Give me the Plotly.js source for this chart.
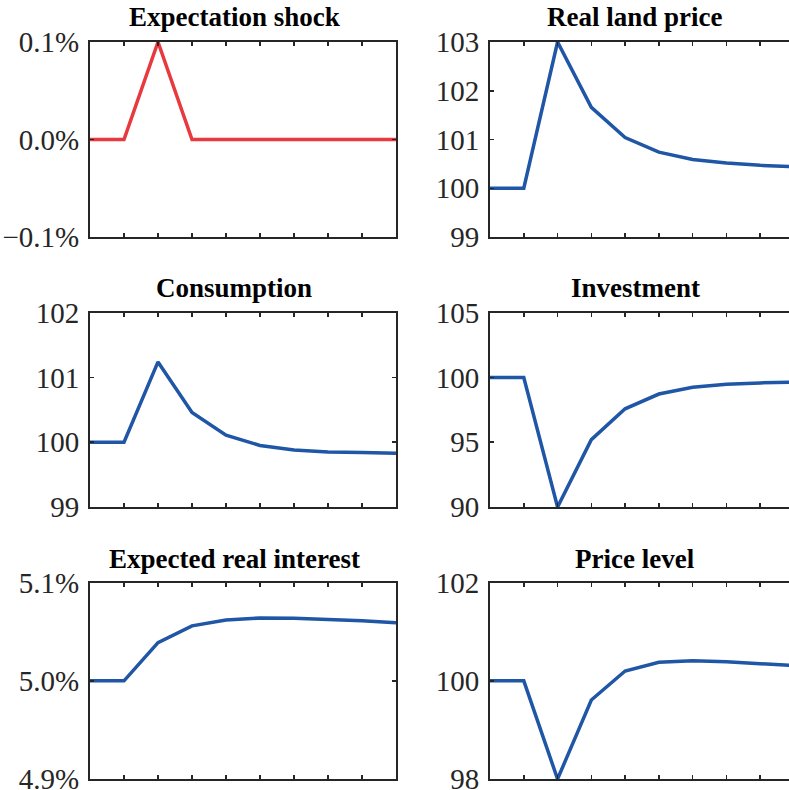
<!DOCTYPE html>
<html>
<head>
<meta charset="utf-8">
<script src="https://cdn.plot.ly/plotly-3.0.1.min.js"></script>
<style>
html,body{margin:0;padding:0;overflow:hidden;background:#fff;width:789px;height:790px;}
#wrap{width:789px;height:790px;overflow:hidden;position:relative;}
#chart{width:800px;height:790px;position:absolute;left:0;top:0;}
</style>
</head>
<body>
<div id="wrap"><div id="chart"></div></div>
<script>
// Periods (x positions)
const periods = [0, 1, 2, 3, 4, 5, 6, 7, 8, 9];

// Series values
const expectationShock = [0, 0, 0.1, 0, 0, 0, 0, 0, 0, 0];          // %
const realLandPrice    = [100, 100, 103, 101.66, 101.04, 100.74, 100.59, 100.52, 100.47, 100.44];
const consumption      = [100, 100, 101.24, 100.46, 100.11, 99.95, 99.88, 99.85, 99.84, 99.83];
const investment       = [100, 100, 90, 95.2, 97.58, 98.72, 99.25, 99.48, 99.58, 99.64];
const expRealInterest  = [5.0, 5.0, 5.039, 5.056, 5.062, 5.064, 5.0637, 5.0626, 5.0612, 5.0592]; // %
const priceLevel       = [100, 100, 98, 99.61, 100.2, 100.38, 100.41, 100.39, 100.35, 100.31];

// Panel titles
const titles = ["Expectation shock", "Real land price", "Consumption", "Investment", "Expected real interest", "Price level"];

// Y ranges and tick labels
const yRanges = [[-0.1, 0.1], [99, 103], [99, 102], [90, 105], [4.9, 5.1], [98, 102]];
const yTickVals = [
  [-0.1, 0, 0.1],
  [99, 100, 101, 102, 103],
  [99, 100, 101, 102],
  [90, 95, 100, 105],
  [4.9, 5.0, 5.1],
  [98, 100, 102]
];
const yTickText = [
  ["\u22120.1%", "0.0%", "0.1%"],
  ["99", "100", "101", "102", "103"],
  ["99", "100", "101", "102"],
  ["90", "95", "100", "105"],
  ["4.9%", "5.0%", "5.1%"],
  ["98", "100", "102"]
];

const series = [expectationShock, realLandPrice, consumption, investment, expRealInterest, priceLevel];
const colors = ["#E8393F", "#1F56A6", "#1F56A6", "#1F56A6", "#1F56A6", "#1F56A6"];

const W = 800, H = 790;
const xDomPx = [[90, 396], [490, 794]];
const yDomPx = [[42, 237], [312.7, 507], [582.7, 779]];
const titleXPx = [234, 635];
const titleYPx = [34, 305, 576];

const traces = [];
const layout = {
  width: W, height: H,
  margin: {l: 0, r: 0, t: 0, b: 0, pad: 0},
  paper_bgcolor: "#ffffff",
  plot_bgcolor: "#ffffff",
  showlegend: false,
  annotations: []
};

for (let i = 0; i < 6; i++) {
  const row = Math.floor(i / 2), col = i % 2;
  const n = i + 1;
  const xa = n === 1 ? "xaxis" : "xaxis" + n;
  const ya = n === 1 ? "yaxis" : "yaxis" + n;
  traces.push({
    x: periods, y: series[i],
    xaxis: "x" + (n === 1 ? "" : n), yaxis: "y" + (n === 1 ? "" : n),
    type: "scatter", mode: "lines",
    line: {color: colors[i], width: 3.5},
    cliponaxis: false,
    hoverinfo: "skip"
  });
  layout[xa] = {
    domain: [xDomPx[col][0] / W, xDomPx[col][1] / W],
    anchor: "y" + (n === 1 ? "" : n),
    range: [0, 9], tickmode: "array", tickvals: periods,
    showgrid: false, zeroline: false,
    showline: true, linecolor: "#262626", linewidth: 2, mirror: "ticks",
    ticks: "inside", ticklen: 4, tickwidth: 1.5, tickcolor: "#262626",
    showticklabels: false, fixedrange: true
  };
  layout[ya] = {
    domain: [1 - yDomPx[row][1] / H, 1 - yDomPx[row][0] / H],
    anchor: "x" + (n === 1 ? "" : n),
    range: yRanges[i], tickmode: "array", tickvals: yTickVals[i], ticktext: yTickText[i],
    showgrid: false, zeroline: false,
    showline: true, linecolor: "#262626", linewidth: 2, mirror: "ticks",
    ticks: "inside", ticklen: 4, tickwidth: 1.5, tickcolor: "#262626",
    tickfont: {family: "Liberation Serif", size: 29, color: "#262626"},
    ticklabelstandoff: 3,
    ticklabeloverflow: "allow",
    fixedrange: true
  };
  layout.annotations.push({
    text: "<b>" + titles[i] + "</b>",
    xref: "paper", yref: "paper",
    x: titleXPx[col] / W, y: 1 - titleYPx[row] / H,
    xanchor: "center", yanchor: "bottom",
    showarrow: false,
    font: {family: "Liberation Serif", size: 27, color: "#000000"}
  });
}

Plotly.newPlot("chart", traces, layout, {displayModeBar: false, staticPlot: true});
</script>
</body>
</html>
